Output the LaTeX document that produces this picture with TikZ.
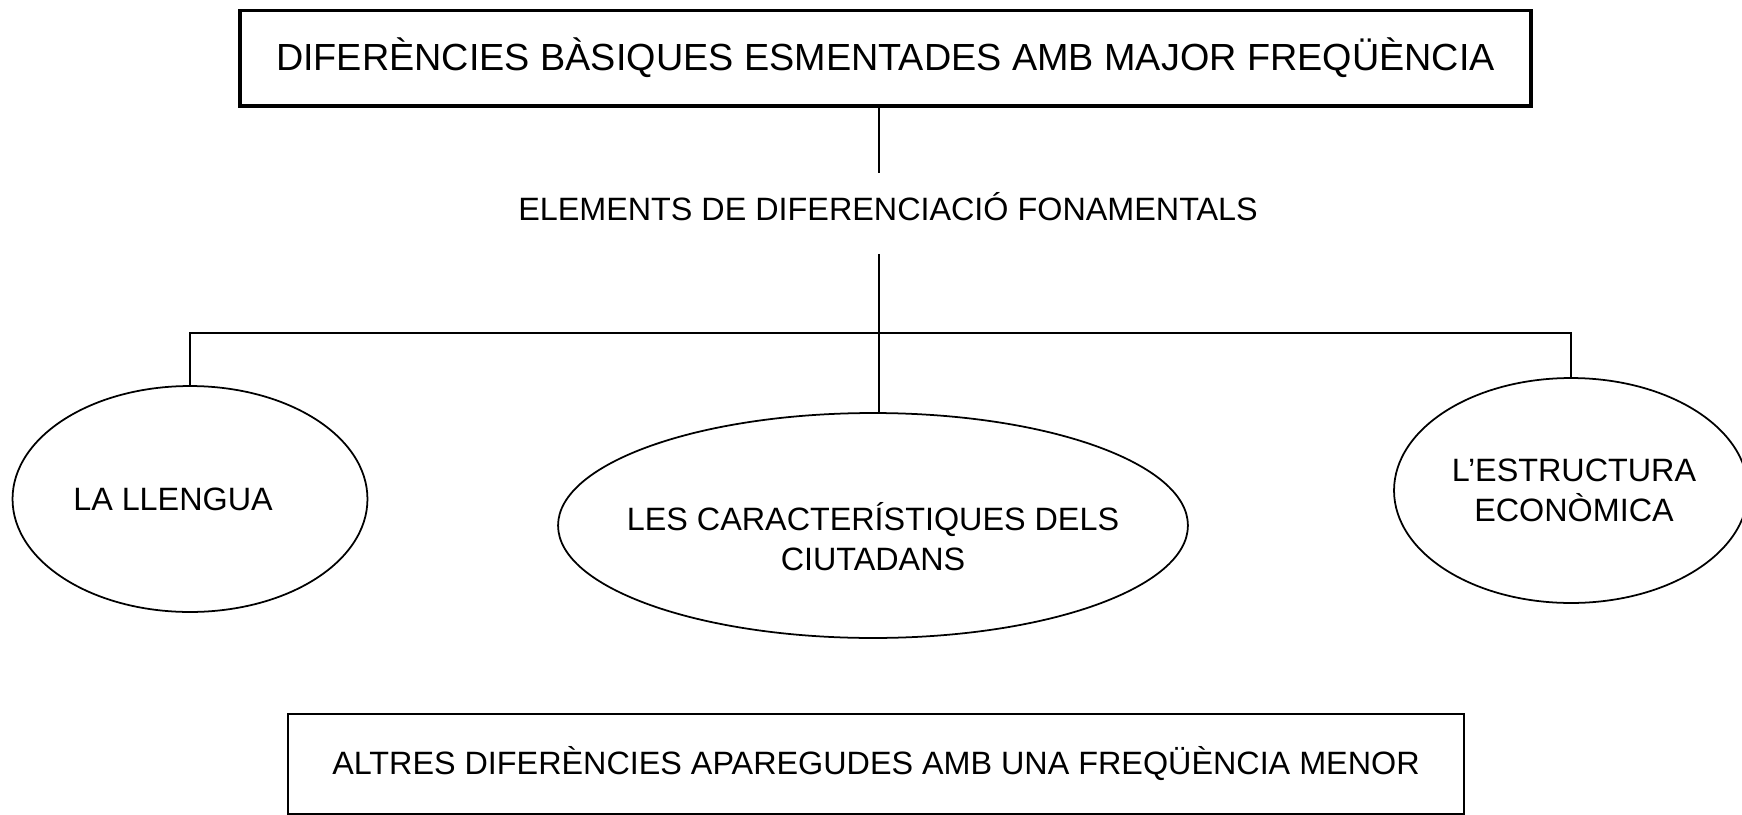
\documentclass[tikz,border=0pt]{standalone}
\usepackage{fontspec}
\setmainfont{Liberation Sans}
\usetikzlibrary{shapes.geometric}

\begin{document}
\begin{tikzpicture}[
    x=0.02cm,
    y=-0.02cm,
    line width=1pt,
    box/.style={
      draw,
      rectangle,
      line width=1.7pt,
      inner sep=0pt,
      font=\fontsize{18.4}{23}\selectfont
    },
    oval/.style={
      draw,
      ellipse,
      inner sep=0pt
    },
    ovaltext/.style={
      inner sep=0pt,
      align=center,
      font=\fontsize{18.4}{23}\selectfont
    }
  ]
    \useasboundingbox (0, 0) rectangle (1742, 815);

    \node[box, line width=2pt, minimum width=25.82cm, minimum height=1.91cm,
      font=\fontsize{21.5}{26}\selectfont] (top) at (885.5, 58)
      {DIFERÈNCIES BÀSIQUES ESMENTADES AMB MAJOR FREQÜÈNCIA};
    \node[inner sep=0pt, text height=26.2pt, text depth=18.8pt, anchor=base,
      font=\fontsize{18.4}{23}\selectfont]
      (elem) at (888, 220) {ELEMENTS DE DIFERENCIACIÓ FONAMENTALS};

    \node[oval, minimum width=7.1cm, minimum height=4.52cm,
      label={[ovaltext, xshift=-0.34cm]center:LA LLENGUA}] (llengua) at (190, 499) {};
    \node[oval, minimum width=12.6cm, minimum height=4.5cm,
      label={[ovaltext, yshift=-0.22cm]center:LES CARACTERÍSTIQUES DELS\\CIUTADANS}]
      (ciutadans) at (873, 525.5) {};
    \node[oval, minimum width=7.08cm, minimum height=4.5cm,
      label={[ovaltext, xshift=0.06cm]center:L’ESTRUCTURA\\ECONÒMICA}]
      (economia) at (1571, 490.5) {};

    \node[box, line width=1.5pt, minimum width=23.53cm, minimum height=2cm] (altres)
      at (876, 764) {ALTRES DIFERÈNCIES APAREGUDES AMB UNA FREQÜÈNCIA MENOR};

    \coordinate (spine) at (879, 333);
    \draw[-] (spine |- top.south) to (spine |- elem.north);
    \draw[-] (spine |- elem.south) to (spine |- ciutadans.north);
    \draw[-] (llengua.north) |- (spine) -| (economia.north);
  \end{tikzpicture}
\end{document}
